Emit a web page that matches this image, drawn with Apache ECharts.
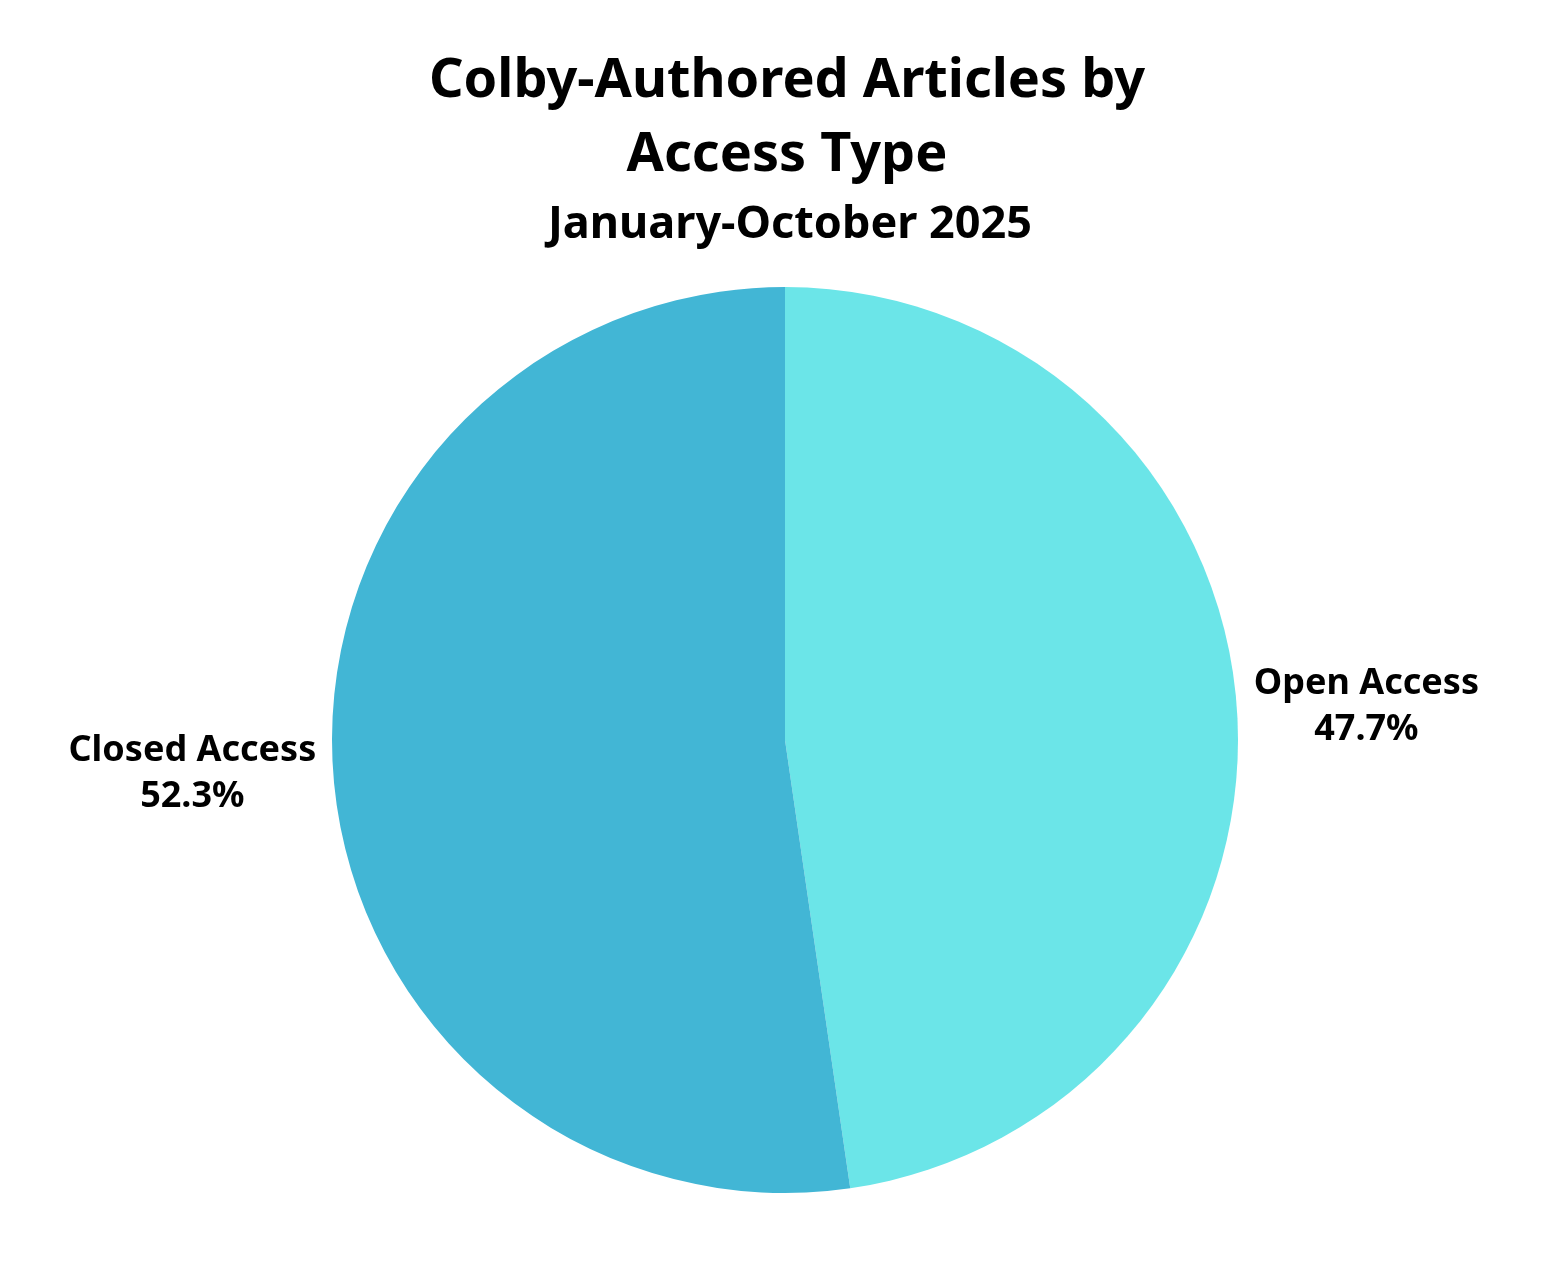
<!DOCTYPE html>
<html>
<head>
<meta charset="UTF-8">
<title>Colby-Authored Articles by Access Type</title>
<script src="https://cdn.jsdelivr.net/npm/echarts@6/dist/echarts.min.js"></script>
<style>
  html, body { margin: 0; padding: 0; background: #fff; }
  #main { width: 1545px; height: 1270px; }
</style>
</head>
<body>
<div id="main"></div>
<script>
// data
var categories = ['Open Access', 'Closed Access'];
var shares = [47.7, 52.3];
var colors = ['#6BE5E8', '#42B6D5'];

var myChart = echarts.init(document.getElementById('main'));

var pieData = categories.map(function (name, i) {
    return { name: name, value: shares[i], itemStyle: { color: colors[i] } };
});

var option = {
    backgroundColor: '#ffffff',
    animation: false,
    title: [{
        text: 'Colby-Authored Articles by\nAccess Type',
        left: 782,
        textAlign: 'center',
        top: 40,
        textStyle: {
            fontFamily: 'Noto Sans',
            fontWeight: 'bold',
            fontSize: 54,
            lineHeight: 74,
            color: '#000'
        }
    }, {
        text: 'January-October 2025',
        left: 785,
        textAlign: 'center',
        top: 198,
        textStyle: {
            fontFamily: 'Noto Sans',
            fontWeight: 'bold',
            fontSize: 45,
            color: '#000'
        }
    }],
    series: [{
        type: 'pie',
        center: [785, 740],
        radius: 453,
        startAngle: 90,
        clockwise: true,
        avoidLabelOverlap: false,
        data: pieData,
        label: {
            show: true,
            position: 'outside',
            distanceToLabelLine: 5,
            formatter: function (p) {
                return '{t|' + p.name + '}\n{t|' + p.value.toFixed(1) + '%}';
            },
            rich: {
                t: {
                    fontFamily: 'Noto Sans',
                    fontWeight: 'bold',
                    fontSize: 36,
                    lineHeight: 46,
                    color: '#000',
                    align: 'center'
                }
            }
        },
        labelLine: { show: false, length: 12, length2: 0 },
        emphasis: { disabled: true }
    }]
};

myChart.setOption(option);
</script>
</body>
</html>
